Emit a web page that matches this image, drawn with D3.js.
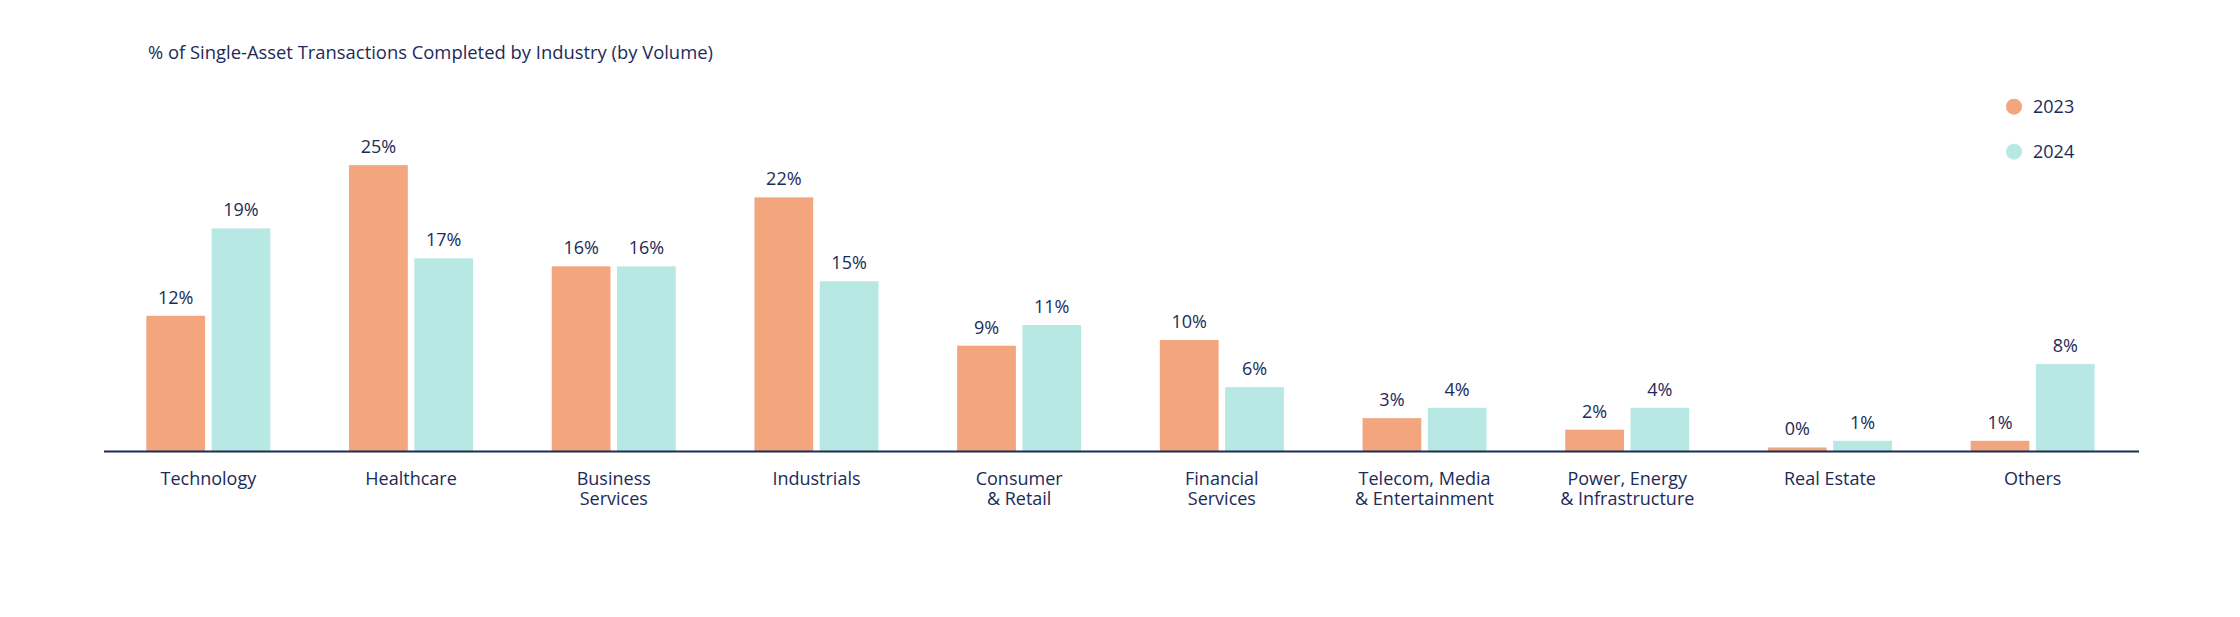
<!DOCTYPE html>
<html>
<head>
<meta charset="utf-8">
<script src="https://cdn.jsdelivr.net/npm/d3@7"></script>
<style>
  html, body { margin: 0; padding: 0; background: #fff; }
  svg { display: block; font-family: "Open Sans", sans-serif; }
</style>
</head>
<body>
<div id="chart"></div>
<script>
// Chart data
const categories = [
    ['Technology'],
    ['Healthcare'],
    ['Business', 'Services'],
    ['Industrials'],
    ['Consumer', '& Retail'],
    ['Financial', 'Services'],
    ['Telecom, Media', '& Entertainment'],
    ['Power, Energy', '& Infrastructure'],
    ['Real Estate'],
    ['Others']
];
const years = ['2023', '2024'];
const values2023 = [11.8, 24.9, 16.1, 22.1, 9.2, 9.7, 2.9, 1.9, 0.35, 0.93];
const values2024 = [19.4, 16.8, 16.1, 14.8, 11.0, 5.6, 3.8, 3.8, 0.93, 7.6];
const colors = ['#F3A57D', '#B8E8E3'];
const title = '% of Single-Asset Transactions Completed by Industry (by Volume)';

const width = 2240;
const height = 617;
const navy = '#1C2B57';
const baseline = 451.5;

const svg = d3.select('#chart')
    .append('svg')
    .attr('width', width)
    .attr('height', height);

// Scales
const x0 = d3.scaleBand()
    .domain(d3.range(categories.length))
    .range([107, 2134]);

const x1 = d3.scaleBand()
    .domain(years)
    .range([-62, 62])
    .paddingInner(0.1);

const y = d3.scaleLinear()
    .domain([0, 25])
    .range([baseline, baseline - 287.5]);

const color = d3.scaleOrdinal().domain(years).range(colors);

// Title
svg.append('text')
    .attr('x', 148)
    .attr('y', 59)
    .attr('fill', navy)
    .style('font-size', '18.4px')
    .text(title);

// Bars
const rows = categories.map((c, i) => ({
    i,
    series: [
        { year: '2023', value: values2023[i] },
        { year: '2024', value: values2024[i] }
    ]
}));

const group = svg.append('g')
    .selectAll('g')
    .data(rows)
    .join('g')
    .attr('transform', d => `translate(${x0(d.i) + x0.bandwidth() / 2},0)`);

group.selectAll('rect')
    .data(d => d.series)
    .join('rect')
    .attr('x', d => x1(d.year))
    .attr('y', d => y(d.value))
    .attr('width', x1.bandwidth())
    .attr('height', d => baseline - y(d.value))
    .attr('fill', d => color(d.year));

// Value labels
group.selectAll('text.value')
    .data(d => d.series)
    .join('text')
    .attr('class', 'value')
    .attr('x', d => x1(d.year) + x1.bandwidth() / 2)
    .attr('y', d => y(d.value) - 12)
    .attr('text-anchor', 'middle')
    .attr('fill', navy)
    .style('font-size', '18px')
    .text(d => Math.round(d.value) + '%');

// Axis line
svg.append('line')
    .attr('x1', 104)
    .attr('x2', 2139)
    .attr('y1', baseline)
    .attr('y2', baseline)
    .attr('stroke', navy)
    .attr('stroke-width', 2);

// Category labels (one text per line)
const catLabel = svg.append('g')
    .selectAll('g')
    .data(categories)
    .join('g')
    .attr('transform', (d, i) => `translate(${x0(i) + x0.bandwidth() / 2},485)`);

catLabel.selectAll('text')
    .data(d => d)
    .join('text')
    .attr('y', (d, i) => i * 20)
    .attr('text-anchor', 'middle')
    .attr('fill', navy)
    .style('font-size', '18px')
    .text(d => d);

// Legend
const legend = svg.append('g')
    .selectAll('g')
    .data(years)
    .join('g')
    .attr('transform', (d, i) => `translate(2014,${106.7 + i * 45})`);

legend.append('circle')
    .attr('r', 8)
    .attr('fill', d => color(d));

legend.append('text')
    .attr('x', 19)
    .attr('y', 6.5)
    .attr('fill', navy)
    .style('font-size', '18px')
    .text(d => d);
</script>
</body>
</html>
